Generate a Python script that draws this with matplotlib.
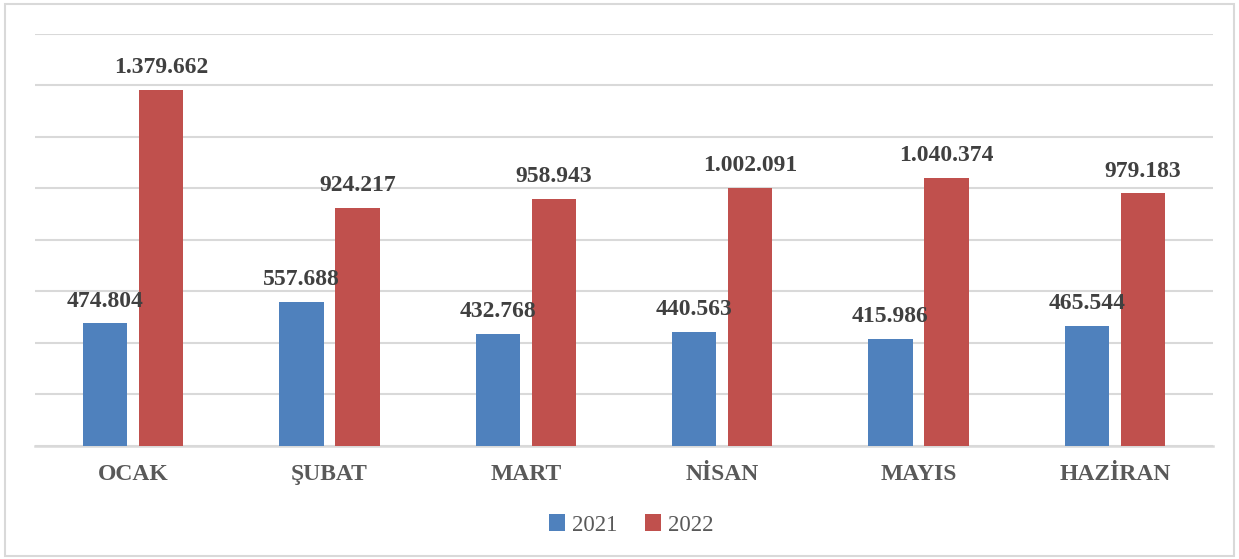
import numpy as np
import matplotlib.pyplot as plt
from matplotlib.patches import Rectangle

# Aylar ve değerler
months = ["OCAK", "ŞUBAT", "MART", "NİSAN", "MAYIS", "HAZİRAN"]
values_2021 = [474804, 557688, 432768, 440563, 415986, 465544]
values_2022 = [1379662, 924217, 958943, 1002091, 1040374, 979183]
series_names = ["2021", "2022"]

blue = "#4F81BD"
red = "#C0504D"
grid_color = "#D9D9D9"


def fmt_tr(v):
    # Türkçe binlik ayırıcı (nokta)
    return f"{v:,}".replace(",", ".")


fig = plt.figure(figsize=[12.39, 5.59], dpi=100)
ax = fig.add_axes([35 / 1239, 113.3 / 559, (1213 - 35) / 1239, (445.7 - 33.5) / 559])

x = np.arange(len(months))
w = 0.225
off = 0.143

b1 = ax.bar(x - off, values_2021, w, color=blue, label=series_names[0], zorder=3)
b2 = ax.bar(x + off, values_2022, w, color=red, label=series_names[1], zorder=3)

label_font = dict(family="Liberation Serif", weight="bold", size=17, color="#404040")
for bars, vals in [(b1, values_2021), (b2, values_2022)]:
    for rect, v in zip(bars, vals):
        ax.annotate(fmt_tr(v), (rect.get_x() + rect.get_width() / 2, v),
                    xytext=(0, 8.5), textcoords="offset points",
                    ha="center", va="bottom", **label_font)

ax.set_xlim(-0.5, len(months) - 0.5)
ax.set_ylim(0, 1600000)
ax.set_yticks(np.arange(0, 1600001, 200000))
ax.yaxis.grid(True, color=grid_color, linewidth=1.5, zorder=0)
ax.tick_params(axis="y", left=False, labelleft=False)
ax.tick_params(axis="x", bottom=False, pad=10)
ax.set_xticks(x)
ax.set_xticklabels(months, fontfamily="Liberation Serif", fontweight="bold",
                   fontsize=17, color="#595959")
for s in ["top", "right", "left"]:
    ax.spines[s].set_visible(False)
ax.spines["bottom"].set_color(grid_color)
ax.spines["bottom"].set_linewidth(1.8)

leg = fig.legend(loc="center", bbox_to_anchor=(631 / 1239, 1 - 525 / 559), ncol=2,
                 frameon=False, handlelength=0.7, handleheight=0.7, handletextpad=0.3,
                 columnspacing=1.2, prop=dict(family="Liberation Serif", size=16.5))
for t in leg.get_texts():
    t.set_color("#595959")

# Dış çerçeve
fig.patches.append(Rectangle((5 / 1239, 3 / 559), 1229 / 1239, 552 / 559,
                             transform=fig.transFigure, fill=False,
                             edgecolor=grid_color, linewidth=1.5))

fig.savefig("out.png", dpi=100)
